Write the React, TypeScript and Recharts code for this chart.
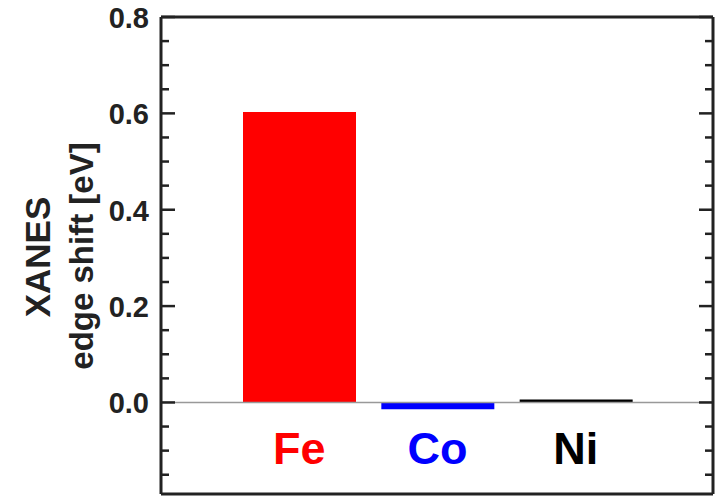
import React from 'react';
import { BarChart, Bar, Cell, XAxis, YAxis, ReferenceLine } from 'recharts';

const elements = ['Fe', 'Co', 'Ni'];
const edgeShift = [0.603, -0.014, 0.006];
const elementColors = ['#ff0000', '#0000ff', '#000000'];
const yTicks = [-0.15, -0.1, -0.05, 0, 0.05, 0.1, 0.15, 0.2, 0.25, 0.3, 0.35, 0.4, 0.45, 0.5, 0.55, 0.6, 0.65, 0.7, 0.75, 0.8];
const yDomain = [-0.19, 0.8];

const FONT = '"Liberation Sans", Arial, sans-serif';
const INK = '#222';

const data = elements.map((el, i) => ({ name: el, shift: edgeShift[i] }));

const isMajor = (v: number) => Math.abs(v * 5 - Math.round(v * 5)) < 1e-6;

function LeftTick({ x, y, payload }: any) {
  const v = payload.value;
  const major = isMajor(v);
  return (
    <g>
      <line x1={x} x2={x + (major ? 14 : 8)} y1={y} y2={y} stroke={INK} strokeWidth={2.5} />
      {major && v >= 0 && (
        <text x={x - 12} y={y + 11} textAnchor="end" fontFamily={FONT} fontWeight="bold" fontSize={29} fill={INK}>
          {v.toFixed(1)}
        </text>
      )}
    </g>
  );
}

function RightTick({ x, y, payload }: any) {
  const major = isMajor(payload.value);
  return <line x1={x} x2={x - (major ? 14 : 8)} y1={y} y2={y} stroke={INK} strokeWidth={2.5} />;
}

function ElementTick({ x, y, payload, index }: any) {
  return (
    <text x={x} y={y - 30} textAnchor="middle" fontFamily={FONT} fontWeight="bold" fontSize={45} fill={elementColors[index]}>
      {payload.value}
    </text>
  );
}

function AxisTitle() {
  return (
    <g fontFamily={FONT} fontWeight="bold" fill={INK} textAnchor="middle">
      <text transform="rotate(-90)" x={-257} y={50} fontSize={35}>XANES</text>
      <text transform="rotate(-90)" x={-256} y={93} fontSize={33}>edge shift [eV]</text>
    </g>
  );
}

export default function App() {
  return (
    <div style={{ position: 'absolute', left: 0, top: 0, width: 720, height: 497, background: '#fff' }}>
      <BarChart width={720} height={497} data={data} margin={{ top: 16, right: 0, bottom: 2, left: 0 }} barSize={113}>
        <XAxis
          dataKey="name"
          height={1}
          padding={{ left: 69, right: 68 }}
          axisLine={{ stroke: INK, strokeWidth: 3 }}
          tickLine={false}
          tickSize={0}
          tickMargin={0}
          tick={<ElementTick />}
          interval={0}
        />
        <XAxis
          xAxisId="top"
          orientation="top"
          dataKey="name"
          height={1}
          axisLine={{ stroke: INK, strokeWidth: 3 }}
          tickLine={false}
          tick={false}
        />
        <YAxis
          type="number"
          domain={yDomain}
          ticks={yTicks}
          width={161}
          axisLine={{ stroke: INK, strokeWidth: 3 }}
          tickLine={false}
          tickSize={0}
          tickMargin={0}
          tick={<LeftTick />}
          interval={0}
          allowDataOverflow
          label={{ content: () => <AxisTitle /> }}
        />
        <YAxis
          yAxisId="r"
          orientation="right"
          type="number"
          domain={yDomain}
          ticks={yTicks}
          width={7}
          axisLine={{ stroke: INK, strokeWidth: 3 }}
          tickLine={false}
          tickSize={0}
          tickMargin={0}
          tick={<RightTick />}
          interval={0}
          allowDataOverflow
        />
        <ReferenceLine y={0} stroke="#999" strokeWidth={1.5} />
        <Bar dataKey="shift" isAnimationActive={false}>
          {data.map((d, i) => (
            <Cell key={d.name} fill={elementColors[i]} />
          ))}
        </Bar>
      </BarChart>
    </div>
  );
}
